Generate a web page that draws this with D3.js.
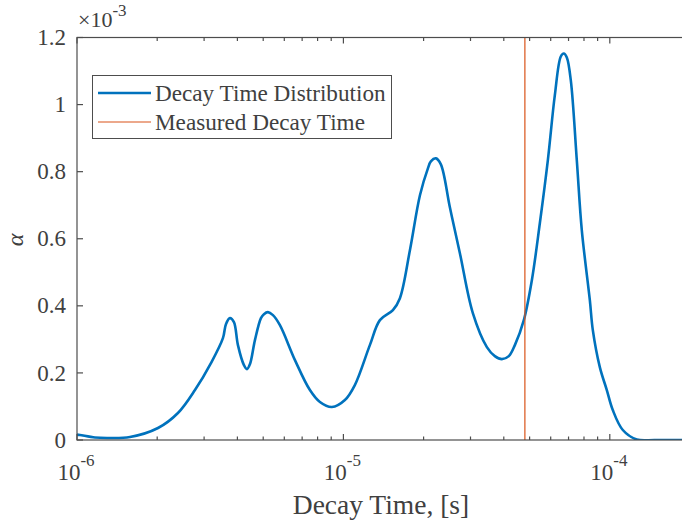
<!DOCTYPE html>
<html>
<head>
<meta charset="utf-8">
<script src="https://cdn.jsdelivr.net/npm/d3@7/dist/d3.min.js"></script>
<style>
  body { margin: 0; background: #fff; }
  svg { display: block; }
  text { font-family: "Liberation Serif", "DejaVu Serif", serif; fill: #404040; }
</style>
</head>
<body>
<svg id="chart" width="682" height="526"></svg>
<script>
// Decay time [s]
const decayTimes = [
  1.000e-6, 1.026e-6, 1.168e-6, 1.307e-6, 1.581e-6, 2.014e-6, 2.393e-6, 2.772e-6,
  3.183e-6, 3.530e-6, 3.623e-6, 3.751e-6, 3.882e-6, 4.019e-6, 4.233e-6, 4.344e-6,
  4.460e-6, 4.655e-6, 4.903e-6, 5.031e-6, 5.208e-6, 5.439e-6,
  5.777e-6, 6.579e-6, 7.487e-6, 8.163e-6, 9.055e-6, 1.013e-5, 1.104e-5, 1.257e-5,
  1.371e-5, 1.534e-5, 1.630e-5, 1.777e-5, 1.938e-5, 2.076e-5, 2.130e-5, 2.224e-5, 2.322e-5,
  2.510e-5, 2.737e-5, 3.061e-5, 3.456e-5, 3.702e-5, 3.934e-5, 4.178e-5, 4.402e-5, 4.756e-5, 5.098e-5,
  5.462e-5, 5.853e-5, 6.217e-5, 6.548e-5, 6.720e-5, 6.897e-5, 7.139e-5, 7.519e-5, 7.851e-5,
  8.415e-5, 8.635e-5, 9.173e-5, 9.745e-5, 1.026e-4, 1.119e-4, 1.263e-4, 1.476e-4,
  1.863e-4, 2.000e-4
];
// alpha (x 1e-3)
const alphaValues = [
  0.0160, 0.0149, 0.0074, 0.0060, 0.0089, 0.0357, 0.0804, 0.1489,
  0.2293, 0.3037, 0.3454, 0.3633, 0.3514, 0.2829, 0.2233, 0.2114,
  0.2263, 0.2978, 0.3633, 0.3752, 0.3811, 0.3722,
  0.3424, 0.2382, 0.1489, 0.1132, 0.0983, 0.1191, 0.1638, 0.2829,
  0.3573, 0.3871, 0.4228, 0.5658, 0.7296, 0.8099, 0.8308, 0.8397, 0.8218,
  0.6938, 0.5568, 0.3782, 0.2769, 0.2501, 0.2412, 0.2501, 0.2829, 0.3573, 0.4764,
  0.6462, 0.8338, 1.0273, 1.1434, 1.1523, 1.1404, 1.0720, 0.8338, 0.6253,
  0.4169, 0.3276, 0.2174, 0.1489, 0.0893, 0.0298, 0.0015, 0.0000,
  0.0000, 0.0000
];
const measuredDecayTime = 4.80e-5;
const xTickValues = [1e-6, 1e-5, 1e-4];
const xTickExponents = ["-6", "-5", "-4"];
const yTickValues = [0, 0.2, 0.4, 0.6, 0.8, 1.0, 1.2];
const yTickLabels = ["0", "0.2", "0.4", "0.6", "0.8", "1", "1.2"];
const seriesNames = ["Decay Time Distribution", "Measured Decay Time"];
const seriesColors = ["#0072BD", "#D95319"];

const svg = d3.select("#chart");
const mLeft = 77, mRight = 690, mTop = 37.5, mBottom = 440;
const axisColor = "#4d4d4d";

const x = d3.scaleLog().domain([1e-6, 2e-4]).range([mLeft, mRight]);
const y = d3.scaleLinear().domain([0, 1.2]).range([mBottom, mTop]);

const minorX = [];
for (let e = -6; e <= -4; e++) for (let m = 2; m <= 9; m++) {
  const v = m * Math.pow(10, e);
  if (v <= 2e-4) minorX.push(v);
}

const g = svg.append("g");

svg.append("clipPath").attr("id", "clip").append("rect")
  .attr("x", mLeft).attr("y", mTop).attr("width", mRight - mLeft).attr("height", mBottom - mTop);

const line = d3.line().x((d, i) => x(decayTimes[i])).y((d) => y(Math.max(0, d)))
  .curve(d3.curveCatmullRom.alpha(0.5));
g.append("path").datum(alphaValues)
  .attr("clip-path", "url(#clip)")
  .attr("d", line).attr("fill", "none")
  .attr("stroke", seriesColors[0]).attr("stroke-width", 2.6).attr("stroke-linejoin", "round");

g.append("line")
  .attr("x1", x(measuredDecayTime)).attr("x2", x(measuredDecayTime))
  .attr("y1", y(0)).attr("y2", y(1.2))
  .attr("stroke", seriesColors[1]).attr("stroke-width", 1.2);

g.append("rect").attr("x", mLeft).attr("y", mTop).attr("width", mRight - mLeft).attr("height", mBottom - mTop)
  .attr("fill", "none").attr("stroke", axisColor).attr("stroke-width", 1.2);

const tg = g.append("g").attr("stroke", axisColor).attr("stroke-width", 1.2);
xTickValues.forEach(v => {
  tg.append("line").attr("x1", x(v)).attr("x2", x(v)).attr("y1", mBottom).attr("y2", mBottom - 6);
  tg.append("line").attr("x1", x(v)).attr("x2", x(v)).attr("y1", mTop).attr("y2", mTop + 6);
});
minorX.forEach(v => {
  tg.append("line").attr("x1", x(v)).attr("x2", x(v)).attr("y1", mBottom).attr("y2", mBottom - 3.5);
  tg.append("line").attr("x1", x(v)).attr("x2", x(v)).attr("y1", mTop).attr("y2", mTop + 3.5);
});
yTickValues.forEach(v => {
  tg.append("line").attr("x1", mLeft).attr("x2", mLeft + 6).attr("y1", y(v)).attr("y2", y(v));
  tg.append("line").attr("x1", mRight).attr("x2", mRight - 6).attr("y1", y(v)).attr("y2", y(v));
});

yTickValues.forEach((v, i) => {
  g.append("text").attr("x", mLeft - 11).attr("y", y(v)).attr("dy", "0.33em")
    .attr("text-anchor", "end").attr("font-size", 23).text(yTickLabels[i]);
});

xTickValues.forEach((v, i) => {
  const t = g.append("text").attr("x", x(v) - 1).attr("y", 480).attr("text-anchor", "middle").attr("font-size", 23);
  t.append("tspan").text("10");
  t.append("tspan").attr("dy", -14).attr("font-size", 17).text(xTickExponents[i]);
});

const ex = g.append("text").attr("x", 78).attr("y", 27).attr("font-size", 22);
ex.append("tspan").text("\u00D710");
ex.append("tspan").attr("dy", -11).attr("font-size", 17).text("-3");

g.append("text").attr("x", 381).attr("y", 514)
  .attr("text-anchor", "middle").attr("font-size", 27.5).text("Decay Time, [s]");
g.append("text").attr("transform", "translate(23,240) rotate(-90)")
  .attr("text-anchor", "middle").attr("font-size", 24).attr("font-style", "italic").text("\u03B1");

const lg = g.append("g");
lg.append("rect").attr("x", 92.5).attr("y", 75.5).attr("width", 299).attr("height", 63)
  .attr("fill", "#fff").attr("stroke", axisColor).attr("stroke-width", 1);
[93, 122].forEach((ly, i) => {
  lg.append("line").attr("x1", 98).attr("x2", 151).attr("y1", ly).attr("y2", ly)
    .attr("stroke", seriesColors[i]).attr("stroke-width", i === 0 ? 2.6 : 1.2);
  lg.append("text").attr("x", 155).attr("y", ly).attr("dy", "0.33em").attr("font-size", 23.2).text(seriesNames[i]);
});
</script>
</body>
</html>
